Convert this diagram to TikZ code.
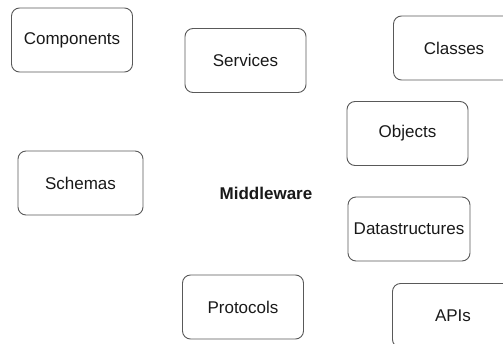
\documentclass[tikz,border=0pt]{standalone}
\usepackage{fontspec}
\setmainfont{Liberation Sans}
\begin{document}
\begin{tikzpicture}[x=1pt,y=-1pt,
  concept/.style={draw=black!65, line width=0.9pt, rounded corners=8pt,
    minimum width=121pt, minimum height=64pt, inner sep=0pt,
    text=black!90, font=\fontsize{17}{20}\selectfont},
  hub/.style={text=black!90, font=\fontsize{17}{20}\selectfont\bfseries}]
  \useasboundingbox (0,0) rectangle (503,343);
  \clip (0,0) rectangle (503,343);
  \node[concept] (comp) at (72,40) {Components};
  \node[concept] (serv) at (245.5,60.5) {Services};
  \node[concept] (cls)  at (454,48) {Classes};
  \node[concept] (obj)  at (407.5,133.5) {Objects};
  \node[concept, minimum width=125pt] (sch) at (80.5,183) {Schemas};
  \node[hub] (mid) at (266,193) {Middleware};
  \node[concept] (prot) at (243,307) {Protocols};
  \node[concept, minimum width=122pt] (data) at (409,229) {Datastructures};
  \node[concept] (api)  at (453,315.5) {APIs};
\end{tikzpicture}
\end{document}
